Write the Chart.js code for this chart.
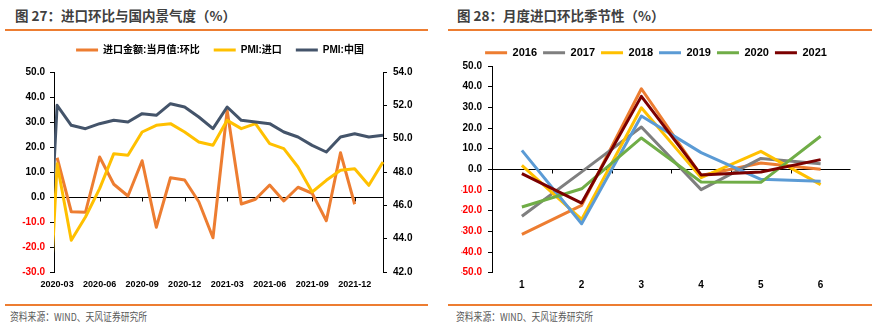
<!DOCTYPE html>
<html><head><meta charset="utf-8">
<script src="https://cdn.jsdelivr.net/npm/chart.js@4.4.1/dist/chart.umd.min.js"></script>
<style>
html,body{margin:0;padding:0;background:#fff;}
#wrap{position:relative;width:879px;height:328px;overflow:hidden;font-family:"Noto Sans CJK SC",sans-serif;}
.title{position:absolute;top:5px;font-size:13.5px;font-weight:bold;color:#404040;white-space:nowrap;}
.rule{position:absolute;height:1.5px;background:#ED7D31;}
.src{position:absolute;top:308px;font-size:11px;color:#595959;white-space:nowrap;transform:scaleX(0.8);transform-origin:0 0;}
canvas{position:absolute;}
</style></head><body>
<div id="wrap">
 <div class="title" style="left:15px">图 27：进口环比与国内景气度（%）</div>
 <div class="title" style="left:457px">图 28：月度进口环比季节性（%）</div>
 <div class="rule" style="left:5px;top:29px;width:423px"></div>
 <div class="rule" style="left:448px;top:29px;width:424px"></div>
 <canvas id="c1" width="440" height="262" style="left:0;top:30px;width:440px;height:262px"></canvas>
 <canvas id="c2" width="439" height="262" style="left:440px;top:30px;width:439px;height:262px"></canvas>
 <div class="rule" style="left:5px;top:304px;width:423px"></div>
 <div class="rule" style="left:448px;top:304px;width:424px"></div>
 <div class="src" style="left:10px">资料来源：WIND、天风证券研究所</div>
 <div class="src" style="left:456px">资料来源：WIND、天风证券研究所</div>
</div>
<script>
// ---------- Chart 1 data ----------
const months = ['2020-02','2020-03','2020-04','2020-05','2020-06','2020-07','2020-08','2020-09','2020-10','2020-11','2020-12',
  '2021-01','2021-02','2021-03','2021-04','2021-05','2021-06','2021-07','2021-08','2021-09','2021-10','2021-11','2021-12',
  '2022-01','2022-02'];
const importMoM = [null, 15.7, -5.9, -6.1, 16.0, 5.1, 0.4, 14.5, -12.1, 7.7, 6.8,
  -1.9, -16.3, 34.6, -2.8, -0.9, 4.8, -1.6, 3.9, 1.5, -9.5, 17.7, -2.9, null, null];
const pmiImport = [31.9, 48.5, 43.9, 45.3, 47.0, 49.1, 49.0, 50.4, 50.8, 50.9, 50.4,
  49.8, 49.6, 51.1, 50.6, 50.9, 49.7, 49.4, 48.3, 46.8, 47.5, 48.1, 48.2, 47.2, 48.6];
const pmiChina = [35.7, 52.0, 50.8, 50.6, 50.9, 51.1, 51.0, 51.5, 51.4, 52.1, 51.9,
  51.3, 50.6, 51.9, 51.1, 51.0, 50.9, 50.4, 50.1, 49.6, 49.2, 50.1, 50.3, 50.1, 50.2];
const names1 = ['进口金额:当月值:环比', 'PMI:进口', 'PMI:中国'];

// ---------- Chart 2 data ----------
const monthsR = ['1','2','3','4','5','6'];
const yearNames = ['2016','2017','2018','2019','2020','2021'];
const y2016 = [-31.5, -17.4, 39.0, -3.0, 3.1, 0.0];
const y2017 = [-22.7, -1.2, 20.5, -9.8, 5.3, 2.7];
const y2018 = [1.9, -24.2, 29.8, -4.0, 8.7, -7.4];
const y2019 = [9.2, -26.3, 25.8, 8.1, -4.8, -5.8];
const y2020 = [-18.2, -9.4, 15.2, -6.1, -6.3, 16.0];
const y2021 = [-2.1, -16.3, 35.3, -2.7, -1.3, 4.7];

const FONT = "'Liberation Sans','Noto Sans CJK SC',sans-serif";
const negRed = c => (c.tick.value < 0 ? '#FF0000' : '#000000');
const zeroLine = c => (c.tick.value === 0 ? '#000000' : 'rgba(0,0,0,0)');

function legendHeight(h) {
  return { id: 'legendHeight', beforeInit(chart) {
    const fit = chart.legend.fit;
    chart.legend.fit = function () { fit.call(this); this.height = h; };
  }};
}
function legendLabels(size, padding) {
  return {
    boxWidth: 22, boxHeight: 3, padding: padding, color: '#000',
    font: { family: FONT, size: size, weight: 'bold' },
    sort: (a, b) => a.datasetIndex - b.datasetIndex,
    generateLabels: c => Chart.defaults.plugins.legend.labels.generateLabels(c).map(l => Object.assign(l, { lineWidth: 0 }))
  };
}
// small tick marks hanging under the zero line
function zeroTicks(getXs) {
  return { id: 'zeroTicks', beforeDatasetsDraw(chart) {
    const ctx = chart.ctx, y0 = Math.round(chart.scales.y.getPixelForValue(0)) + 0.5;
    ctx.save(); ctx.strokeStyle = '#000'; ctx.lineWidth = 1; ctx.beginPath();
    getXs(chart).forEach(px => { const x = Math.round(px) + 0.5; ctx.moveTo(x, y0); ctx.lineTo(x, y0 + 4); });
    ctx.stroke(); ctx.restore();
  }};
}

const pts = arr => months.map((m, i) => ({ x: i - 1, y: arr[i] }));
const tickIdx = months.map((m, i) => i - 1).filter(v => v >= 0 && v % 3 === 0);
const colors1 = ['#ED7D31', '#FFC000', '#44546A'];
const series1 = [importMoM, pmiImport, pmiChina];
const axes1 = ['y', 'y1', 'y1'];

new Chart(document.getElementById('c1'), {
  type: 'line',
  data: { datasets: series1.map((s, i) => ({
    label: names1[i], data: pts(s), yAxisID: axes1[i],
    borderColor: colors1[i], backgroundColor: colors1[i], borderWidth: 3,
    pointRadius: 0, tension: 0, borderJoinStyle: 'round', fill: false,
    order: series1.length - i, clip: { left: 0, right: 2, top: 2, bottom: 0 }
  })) },
  options: {
    responsive: false, animation: false, devicePixelRatio: 1,
    layout: { padding: { top: 1, left: 0, right: 0, bottom: 0 } },
    plugins: { tooltip: { enabled: false }, legend: { position: 'top', align: 'center', labels: legendLabels(10, 14) } },
    scales: {
      x: { type: 'linear', min: -0.22, max: 23,
        afterBuildTicks: s => { s.ticks = tickIdx.map(v => ({ value: v })); },
        afterFit: s => { s.height = 20; },
        grid: { display: false, drawTicks: false }, border: { display: false },
        ticks: { autoSkip: false, maxRotation: 0, padding: 7.6, color: '#000',
          font: { family: FONT, size: 9, weight: 'bold' }, callback: v => months[v + 1] } },
      y: { position: 'left', min: -30, max: 50,
        afterFit: s => { s.width = 54; },
        border: { display: true, color: '#000', width: 1 },
        grid: { color: zeroLine, tickColor: '#000', tickLength: 4, drawTicks: true, lineWidth: 1 },
        ticks: { stepSize: 10, padding: 5, color: negRed, font: { family: FONT, size: 10, weight: 'bold' }, callback: v => v.toFixed(1) } },
      y1: { position: 'right', min: 42, max: 54,
        afterFit: s => { s.width = 57; },
        border: { display: true, color: '#000', width: 1 },
        grid: { drawOnChartArea: false, color: '#000', tickColor: '#000', tickLength: 4 },
        ticks: { stepSize: 2, padding: 6, color: '#000', font: { family: FONT, size: 10, weight: 'bold' }, callback: v => v.toFixed(1) } }
    }
  },
  plugins: [legendHeight(41), zeroTicks(ch => tickIdx.filter(v => v > 0).map(v => ch.scales.x.getPixelForValue(v)))]
});

const colors2 = ['#ED7D31', '#7F7F7F', '#FFC000', '#5B9BD5', '#70AD47', '#7B0000'];
const series2 = [y2016, y2017, y2018, y2019, y2020, y2021];
new Chart(document.getElementById('c2'), {
  type: 'line',
  data: { labels: monthsR, datasets: series2.map((s, i) => ({
    label: yearNames[i], data: s,
    borderColor: colors2[i], backgroundColor: colors2[i], borderWidth: 3,
    pointRadius: 0, tension: 0, borderJoinStyle: 'round', fill: false,
    order: series2.length - i
  })) },
  options: {
    responsive: false, animation: false, devicePixelRatio: 1,
    layout: { padding: { top: 11.2, left: 21.5, right: 28.5, bottom: 0 } },
    plugins: { tooltip: { enabled: false }, legend: { position: 'top', align: 'center', labels: legendLabels(11, 6) } },
    scales: {
      x: { type: 'category', offset: true,
        afterFit: s => { s.height = 19.3; },
        grid: { display: false, drawTicks: false }, border: { display: false },
        ticks: { autoSkip: false, maxRotation: 0, padding: 6.3, color: '#000', font: { family: FONT, size: 10, weight: 'bold' } } },
      y: { min: -50, max: 50,
        afterFit: s => { s.width = 30.5; },
        border: { display: true, color: '#000', width: 1 },
        grid: { color: zeroLine, tickColor: '#000', tickLength: 4, drawTicks: true, lineWidth: 1 },
        ticks: { stepSize: 10, padding: 6, color: negRed, font: { family: FONT, size: 10, weight: 'bold' }, callback: v => v.toFixed(1) } }
    }
  },
  plugins: [legendHeight(24.8), zeroTicks(ch => monthsR.slice(1).map((m, i) => (ch.scales.x.getPixelForValue(i) + ch.scales.x.getPixelForValue(i + 1)) / 2))]
});
</script>
</body></html>
